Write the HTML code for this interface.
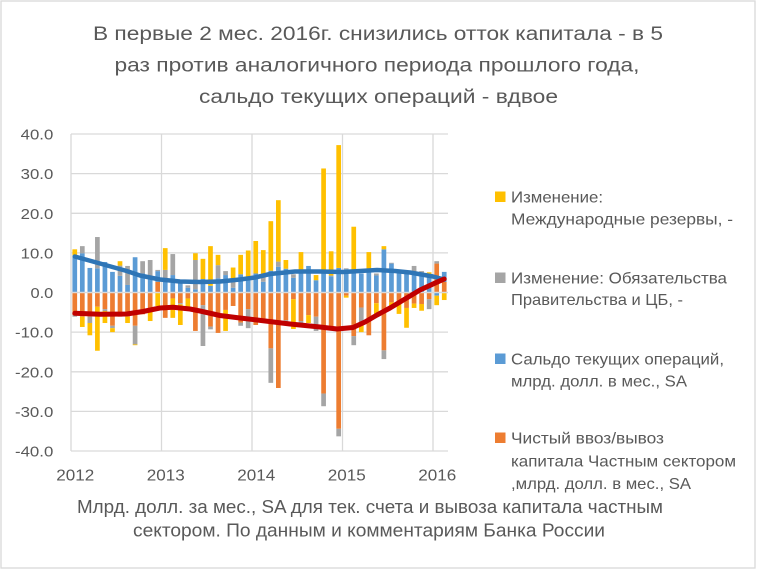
<!DOCTYPE html>
<html><head><meta charset="utf-8"><style>
html,body{margin:0;padding:0;background:#fff;}
svg{display:block;}
text{font-family:"Liberation Sans","DejaVu Sans",sans-serif;fill:#595959;}
</style></head><body>
<svg width="757" height="570" viewBox="0 0 757 570" xmlns="http://www.w3.org/2000/svg">
<rect x="1" y="1" width="754" height="567" fill="#fff" stroke="#d9d9d9" stroke-width="1.3"/>
<g font-size="19" text-anchor="middle">
<text x="378" y="40" textLength="570" lengthAdjust="spacingAndGlyphs">В первые 2 мес. 2016г. снизились отток капитала - в 5</text>
<text x="377" y="71.5" textLength="525" lengthAdjust="spacingAndGlyphs">раз против аналогичного периода прошлого года,</text>
<text x="378.5" y="103" textLength="359" lengthAdjust="spacingAndGlyphs">сальдо текущих операций - вдвое</text>
</g>
<g stroke="#d9d9d9" stroke-width="1.3">
<line x1="71" y1="134" x2="448" y2="134"/>
<line x1="71" y1="173.6" x2="448" y2="173.6"/>
<line x1="71" y1="213.3" x2="448" y2="213.3"/>
<line x1="71" y1="252.9" x2="448" y2="252.9"/>
<line x1="71" y1="332.1" x2="448" y2="332.1"/>
<line x1="71" y1="371.8" x2="448" y2="371.8"/>
<line x1="71" y1="411.4" x2="448" y2="411.4"/>
<line x1="71" y1="451" x2="448" y2="451"/>
<line x1="71" y1="134" x2="71" y2="451"/>
<line x1="161.5" y1="134" x2="161.5" y2="451"/>
<line x1="252" y1="134" x2="252" y2="451"/>
<line x1="342.5" y1="134" x2="342.5" y2="451"/>
<line x1="433" y1="134" x2="433" y2="451"/>
</g>
<g transform="translate(72.42,292.5) scale(7.54,-3.9625)">
<g fill="#ed7d31">
<rect x="0" y="-5.7" width=".623" height="5.7"/><rect x="1" y="-6.1" width=".623" height="6.1"/><rect x="2" y="-6.1" width=".623" height="6.1"/><rect x="3" y="-3.6" width=".623" height="3.6"/><rect x="4" y="-4.2" width=".623" height="4.2"/><rect x="5" y="-8.4" width=".623" height="8.4"/><rect x="6" y="-6.1" width=".623" height="6.1"/><rect x="7" y="-6.1" width=".623" height="6.1"/><rect x="8" y="-8.4" width=".623" height="8.4"/><rect x="9" y="-5.5" width=".623" height="5.5"/><rect x="10" y="-4.6" width=".623" height="4.6"/><rect x="11" y="0" width=".623" height="2.7"/><rect x="12" y="-6.4" width=".623" height="6.4"/><rect x="13" y="-1.5" width=".623" height="1.5"/><rect x="14" y="-2.7" width=".623" height="2.7"/><rect x="15" y="-1.5" width=".623" height="1.5"/><rect x="16" y="-9.7" width=".623" height="9.7"/><rect x="17" y="-3.2" width=".623" height="3.2"/><rect x="18" y="-8.6" width=".623" height="8.6"/><rect x="19" y="-10.2" width=".623" height="10.2"/><rect x="20" y="-4.4" width=".623" height="4.4"/><rect x="21" y="-3.4" width=".623" height="3.4"/><rect x="22" y="-7.6" width=".623" height="7.6"/><rect x="23" y="-4.2" width=".623" height="4.2"/><rect x="24" y="-8.2" width=".623" height="8.2"/><rect x="25" y="-7.4" width=".623" height="7.4"/><rect x="26" y="-14.1" width=".623" height="14.1"/><rect x="27" y="-24.1" width=".623" height="24.1"/><rect x="28" y="-7" width=".623" height="7"/><rect x="29" y="-1.7" width=".623" height="1.7"/><rect x="30" y="-7.2" width=".623" height="7.2"/><rect x="31" y="-5.7" width=".623" height="5.7"/><rect x="32" y="-6.1" width=".623" height="6.1"/><rect x="33" y="-25.5" width=".623" height="25.5"/><rect x="34" y="-9.3" width=".623" height="9.3"/><rect x="35" y="-34.4" width=".623" height="34.4"/><rect x="36" y="-0.8" width=".623" height="0.8"/><rect x="37" y="-11" width=".623" height="11"/><rect x="38" y="-3.8" width=".623" height="3.8"/><rect x="39" y="-10.8" width=".623" height="10.8"/><rect x="40" y="-2.7" width=".623" height="2.7"/><rect x="41" y="-14.6" width=".623" height="14.6"/><rect x="42" y="-2.5" width=".623" height="2.5"/><rect x="43" y="-2.4" width=".623" height="2.4"/><rect x="44" y="-3.9" width=".623" height="3.9"/><rect x="45" y="-2.8" width=".623" height="2.8"/><rect x="46" y="-2.9" width=".623" height="2.9"/><rect x="47" y="-1.7" width=".623" height="1.7"/><rect x="48" y="0" width=".623" height="7.3"/><rect x="49" y="0" width=".623" height="2.7"/>
</g>
<g fill="#5b9bd5">
<rect x="0" y="0" width=".623" height="9.4"/><rect x="1" y="0" width=".623" height="9.9"/><rect x="2" y="0" width=".623" height="6.2"/><rect x="3" y="0" width=".623" height="6.1"/><rect x="4" y="0" width=".623" height="7.7"/><rect x="5" y="0" width=".623" height="5.2"/><rect x="6" y="0" width=".623" height="4.2"/><rect x="7" y="0" width=".623" height="1.9"/><rect x="8" y="0" width=".623" height="8.9"/><rect x="9" y="0" width=".623" height="4.8"/><rect x="10" y="0" width=".623" height="3.8"/><rect x="11" y="2.7" width=".623" height="2.7"/><rect x="12" y="0" width=".623" height="3.6"/><rect x="13" y="0" width=".623" height="4.4"/><rect x="14" y="0" width=".623" height="2.3"/><rect x="15" y="0" width=".623" height="1.2"/><rect x="16" y="0" width=".623" height="0.8"/><rect x="17" y="0" width=".623" height="3.4"/><rect x="18" y="0" width=".623" height="1.7"/><rect x="19" y="0" width=".623" height="3.6"/><rect x="20" y="0" width=".623" height="4.4"/><rect x="21" y="0" width=".623" height="1.2"/><rect x="22" y="0" width=".623" height="4.6"/><rect x="23" y="0" width=".623" height="3.8"/><rect x="24" y="0" width=".623" height="4.8"/><rect x="25" y="0" width=".623" height="2.7"/><rect x="26" y="0" width=".623" height="5.5"/><rect x="27" y="0" width=".623" height="6.5"/><rect x="28" y="0" width=".623" height="6"/><rect x="29" y="0" width=".623" height="3.7"/><rect x="30" y="0" width=".623" height="5.8"/><rect x="31" y="0" width=".623" height="6.7"/><rect x="32" y="0" width=".623" height="3.1"/><rect x="33" y="0" width=".623" height="4.8"/><rect x="34" y="0" width=".623" height="4.1"/><rect x="35" y="0" width=".623" height="6.2"/><rect x="36" y="0" width=".623" height="5.9"/><rect x="37" y="0" width=".623" height="5.5"/><rect x="38" y="0" width=".623" height="4.8"/><rect x="39" y="0" width=".623" height="5.6"/><rect x="40" y="0" width=".623" height="4.3"/><rect x="41" y="0" width=".623" height="10.9"/><rect x="42" y="0" width=".623" height="7.3"/><rect x="43" y="0" width=".623" height="5"/><rect x="44" y="0" width=".623" height="5"/><rect x="45" y="0" width=".623" height="5.2"/><rect x="46" y="0" width=".623" height="4.8"/><rect x="47" y="0" width=".623" height="4"/><rect x="48" y="-0.8" width=".623" height="0.8"/><rect x="49" y="2.7" width=".623" height="2.5"/>
</g>
<g fill="#a5a5a5">
<rect x="0" y="-6.1" width=".623" height="0.4"/><rect x="1" y="9.9" width=".623" height="1.8"/><rect x="2" y="-7.7" width=".623" height="1.6"/><rect x="3" y="6.1" width=".623" height="7.9"/><rect x="4" y="-4.7" width=".623" height="0.5"/><rect x="5" y="-9" width=".623" height="0.6"/><rect x="6" y="4.2" width=".623" height="2.6"/><rect x="7" y="1.9" width=".623" height="4.8"/><rect x="8" y="-13.1" width=".623" height="4.7"/><rect x="9" y="4.8" width=".623" height="3.1"/><rect x="10" y="3.8" width=".623" height="4.4"/><rect x="11" y="5.4" width=".623" height="0.3"/><rect x="12" y="3.6" width=".623" height="2.1"/><rect x="13" y="4.4" width=".623" height="5.3"/><rect x="14" y="-3" width=".623" height="0.3"/><rect x="15" y="1.2" width=".623" height="0.6"/><rect x="16" y="0.8" width=".623" height="7.4"/><rect x="17" y="-13.5" width=".623" height="10.3"/><rect x="18" y="-9.3" width=".623" height="0.7"/><rect x="19" y="3.6" width=".623" height="3.3"/><rect x="20" y="4.4" width=".623" height="1"/><rect x="21" y="1.2" width=".623" height="2.4"/><rect x="22" y="-8.4" width=".623" height="0.8"/><rect x="23" y="-9" width=".623" height="4.8"/><rect x="25" y="2.7" width=".623" height="1.3"/><rect x="26" y="-22.8" width=".623" height="8.7"/><rect x="27" y="6.5" width=".623" height="1.3"/><rect x="28" y="-7.3" width=".623" height="0.3"/><rect x="29" y="3.7" width=".623" height="0.9"/><rect x="30" y="-7.7" width=".623" height="0.5"/><rect x="32" y="-9.7" width=".623" height="3.6"/><rect x="33" y="-28.7" width=".623" height="3.2"/><rect x="34" y="4.1" width=".623" height="0.2"/><rect x="35" y="-36.3" width=".623" height="1.9"/><rect x="36" y="5.9" width=".623" height="0.2"/><rect x="37" y="-13.3" width=".623" height="2.3"/><rect x="38" y="-7.8" width=".623" height="4"/><rect x="40" y="4.3" width=".623" height="0.5"/><rect x="41" y="-16.8" width=".623" height="2.2"/><rect x="42" y="7.3" width=".623" height="0.2"/><rect x="43" y="-2.8" width=".623" height="0.4"/><rect x="45" y="5.2" width=".623" height="1.5"/><rect x="46" y="4.8" width=".623" height="0.6"/><rect x="47" y="-4.2" width=".623" height="2.5"/><rect x="48" y="7.3" width=".623" height="0.6"/>
</g>
<g fill="#ffc000">
<rect x="0" y="9.4" width=".623" height="1.5"/><rect x="1" y="-8.7" width=".623" height="2.6"/><rect x="2" y="-10.8" width=".623" height="3.1"/><rect x="3" y="-14.7" width=".623" height="11.1"/><rect x="4" y="-7.7" width=".623" height="3"/><rect x="5" y="-10" width=".623" height="1"/><rect x="6" y="6.8" width=".623" height="1.1"/><rect x="7" y="-7.7" width=".623" height="1.6"/><rect x="8" y="-13.3" width=".623" height="0.2"/><rect x="10" y="-7.2" width=".623" height="2.6"/><rect x="11" y="-3.4" width=".623" height="3.4"/><rect x="12" y="5.7" width=".623" height="5.5"/><rect x="13" y="-6.4" width=".623" height="4.9"/><rect x="14" y="-8.2" width=".623" height="5.2"/><rect x="15" y="-3.6" width=".623" height="2.1"/><rect x="16" y="8.2" width=".623" height="1.7"/><rect x="17" y="3.4" width=".623" height="5.1"/><rect x="18" y="1.7" width=".623" height="10"/><rect x="19" y="6.9" width=".623" height="2.6"/><rect x="20" y="-9.7" width=".623" height="5.3"/><rect x="21" y="3.6" width=".623" height="2.7"/><rect x="22" y="4.6" width=".623" height="4.9"/><rect x="23" y="3.8" width=".623" height="6.8"/><rect x="24" y="4.8" width=".623" height="8.2"/><rect x="25" y="4" width=".623" height="6.7"/><rect x="26" y="5.5" width=".623" height="12.5"/><rect x="27" y="7.8" width=".623" height="15.5"/><rect x="28" y="6" width=".623" height="2.2"/><rect x="29" y="-9.2" width=".623" height="7.5"/><rect x="30" y="5.8" width=".623" height="4.4"/><rect x="31" y="-7.7" width=".623" height="2"/><rect x="32" y="3.1" width=".623" height="1.3"/><rect x="33" y="4.8" width=".623" height="26.5"/><rect x="34" y="4.3" width=".623" height="6.1"/><rect x="35" y="6.2" width=".623" height="31"/><rect x="36" y="-1.3" width=".623" height="0.5"/><rect x="37" y="5.5" width=".623" height="11.1"/><rect x="38" y="-10" width=".623" height="2.2"/><rect x="39" y="5.6" width=".623" height="4.6"/><rect x="40" y="-6.1" width=".623" height="3.4"/><rect x="41" y="10.9" width=".623" height="0.8"/><rect x="42" y="-3.7" width=".623" height="1.2"/><rect x="43" y="-5.4" width=".623" height="2.6"/><rect x="44" y="-8.9" width=".623" height="5"/><rect x="45" y="-3.9" width=".623" height="1.1"/><rect x="46" y="-4.6" width=".623" height="1.7"/><rect x="47" y="4" width=".623" height="1.1"/><rect x="48" y="-3.2" width=".623" height="2.4"/><rect x="49" y="-1.9" width=".623" height="1.9"/>
</g>
</g>
<line x1="71" y1="292.5" x2="448" y2="292.5" stroke="#d9d9d9" stroke-width="1.6"/>
<polyline fill="none" stroke="#2e75b6" stroke-width="4.5" stroke-linecap="round" stroke-linejoin="round" points="74.8,256.5 100,263.5 126.7,271 140,275.5 160,279.5 180,281.5 200,282 220,281.5 240,279.5 255,277.5 270,274 295,271.5 320,271.5 343,272 360,271 377,270 395,271 410,272.5 433,276.5 444.2,279.5"/>
<polyline fill="none" stroke="#c00000" stroke-width="5" stroke-linecap="round" stroke-linejoin="round" points="74.8,313.3 100,314.3 126.7,314 143,311.5 160,308 173,307.3 190,309 200,311 220,315.5 240,318 257,320 290,324 320,327 337,329 353,327.5 365,322 377,315 390,308 400,302 420,290 436.7,282.3 444.2,279"/>
<g font-size="15" text-anchor="end">
<text x="53.3" y="139.5" textLength="32.6" lengthAdjust="spacingAndGlyphs">40.0</text>
<text x="53.3" y="179.1" textLength="32.6" lengthAdjust="spacingAndGlyphs">30.0</text>
<text x="53.3" y="218.8" textLength="32.6" lengthAdjust="spacingAndGlyphs">20.0</text>
<text x="53.3" y="258.4" textLength="32.6" lengthAdjust="spacingAndGlyphs">10.0</text>
<text x="53.3" y="298" textLength="22.8" lengthAdjust="spacingAndGlyphs">0.0</text>
<text x="53.3" y="337.6" textLength="38.3" lengthAdjust="spacingAndGlyphs">-10.0</text>
<text x="53.3" y="377.3" textLength="38.3" lengthAdjust="spacingAndGlyphs">-20.0</text>
<text x="53.3" y="416.9" textLength="38.3" lengthAdjust="spacingAndGlyphs">-30.0</text>
<text x="53.3" y="456.5" textLength="38.3" lengthAdjust="spacingAndGlyphs">-40.0</text>
</g>
<g font-size="15.5" text-anchor="middle">
<text x="75.3" y="480.5" textLength="38" lengthAdjust="spacingAndGlyphs">2012</text>
<text x="165.8" y="480.5" textLength="38" lengthAdjust="spacingAndGlyphs">2013</text>
<text x="256.3" y="480.5" textLength="38" lengthAdjust="spacingAndGlyphs">2014</text>
<text x="346.8" y="480.5" textLength="38" lengthAdjust="spacingAndGlyphs">2015</text>
<text x="437.3" y="480.5" textLength="38" lengthAdjust="spacingAndGlyphs">2016</text>
</g>
<rect x="495" y="191.5" width="10.5" height="10.5" fill="#ffc000"/>
<rect x="495" y="272.5" width="10.5" height="10.5" fill="#a5a5a5"/>
<rect x="495" y="353.5" width="10.5" height="10.5" fill="#5b9bd5"/>
<rect x="495" y="432.5" width="10.5" height="10.5" fill="#ed7d31"/>
<g font-size="16">
<text x="511" y="202.5" textLength="92" lengthAdjust="spacingAndGlyphs">Изменение:</text>
<text x="511" y="224.5" textLength="222" lengthAdjust="spacingAndGlyphs">Международные резервы, -</text>
<text x="511" y="283.5" textLength="216" lengthAdjust="spacingAndGlyphs">Изменение: Обязательства</text>
<text x="511" y="305" textLength="172" lengthAdjust="spacingAndGlyphs">Правительства и ЦБ, -</text>
<text x="511" y="364.5" textLength="213" lengthAdjust="spacingAndGlyphs">Сальдо текущих операций,</text>
<text x="511" y="386.5" textLength="176" lengthAdjust="spacingAndGlyphs">млрд. долл. в мес., SA</text>
<text x="511" y="443.5" textLength="153" lengthAdjust="spacingAndGlyphs">Чистый ввоз/вывоз</text>
<text x="511" y="466.5" textLength="225" lengthAdjust="spacingAndGlyphs">капитала Частным сектором</text>
<text x="511" y="489" textLength="180" lengthAdjust="spacingAndGlyphs">,млрд. долл. в мес., SA</text>
</g>
<g font-size="18.5" text-anchor="middle">
<text x="370" y="513" textLength="586" lengthAdjust="spacingAndGlyphs">Млрд. долл. за мес., SA для тек. счета и вывоза капитала частным</text>
<text x="369" y="536.5" textLength="472" lengthAdjust="spacingAndGlyphs">сектором. По данным и комментариям Банка России</text>
</g>
</svg>
</body></html>
